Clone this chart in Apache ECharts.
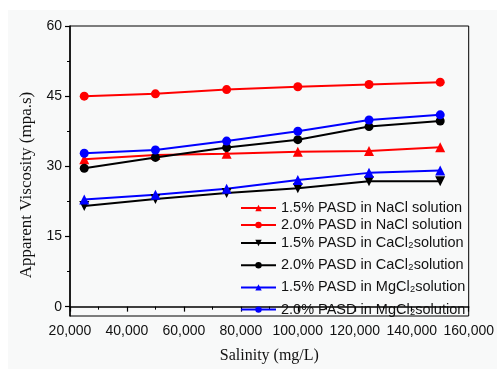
<!DOCTYPE html>
<html>
<head>
<meta charset="utf-8">
<script src="https://cdn.jsdelivr.net/npm/echarts@6/dist/echarts.min.js"></script>
<style>html,body{margin:0;padding:0;background:#fff;}#c{width:497px;height:369px;}</style>
</head>
<body>
<div id="c"></div>
<script>
const salinity = [25000, 50000, 75000, 100000, 125000, 150000];
const nacl15 = [31.5, 32.4, 32.7, 33.1, 33.3, 34.1];
const nacl20 = [45.0, 45.5, 46.4, 47.0, 47.5, 48.0];
const cacl15 = [21.5, 23.0, 24.3, 25.3, 26.8, 26.8];
const cacl20 = [29.6, 31.9, 34.0, 35.7, 38.5, 39.7];
const mgcl15 = [22.9, 23.9, 25.2, 27.1, 28.6, 29.1];
const mgcl20 = [32.8, 33.5, 35.4, 37.5, 39.9, 41.0];
const yMajorTicks = [0, 15, 30, 45, 60];
const yMinorTicks = [7.5, 22.5, 37.5, 52.5];
const seriesNames = [
  '1.5% PASD in NaCl solution',
  '2.0% PASD in NaCl solution',
  '1.5% PASD in CaCl\u2082solution',
  '2.0% PASD in CaCl\u2082solution',
  '1.5% PASD in MgCl\u2082solution',
  '2.0% PASD in MgCl\u2082solution'
];

const chart = echarts.init(document.getElementById('c'));
const pairs = arr => salinity.map((x, i) => [x, arr[i]]);
function mk(name, data, color, symbol, rotate, size) {
  return {
    name: name, type: 'line', data: pairs(data),
    symbol: symbol, symbolSize: size, symbolRotate: rotate,
    lineStyle: {color: color, width: 2},
    itemStyle: {color: color},
    emphasis: {disabled: true}
  };
}
const legendText = {fontFamily: 'Liberation Sans, Arial', fontSize: 14.5, color: '#111', lineHeight: 17};
const labelFont = {fontFamily: 'Liberation Sans, Arial', fontSize: 14, color: '#111'};
chart.setOption({
  animation: false,
  backgroundColor: '#ffffff',
  graphic: [
    {type: 'rect', z: -100, silent: true, shape: {x: 8, y: 10, width: 489, height: 359}, style: {fill: '#f8f9f9'}},
    {type: 'text', silent: true, x: 27, y: 185, rotation: Math.PI / 2,
      style: {text: 'Apparent Viscosity (mpa.s)', fontFamily: 'Liberation Serif, Times New Roman', fontSize: 17, fill: '#111', align: 'center', verticalAlign: 'middle'}}
  ],
  grid: {left: 70, top: 26, right: 25, bottom: 47, show: true, borderColor: '#000', borderWidth: 1, backgroundColor: 'transparent'},
  legend: [{
    data: seriesNames.slice(0, 2), left: 240, top: 199.5, orient: 'vertical', z: 50,
    itemWidth: 35, itemHeight: 8, itemGap: 0, padding: 0, selectedMode: false,
    textStyle: legendText
  }, {
    data: seriesNames.slice(2), left: 240, top: 234.5, orient: 'vertical', z: 50,
    itemWidth: 35, itemHeight: 8, itemGap: 5.2, padding: 0, selectedMode: false,
    textStyle: legendText
  }],
  xAxis: {
    type: 'value', min: 20000, max: 160000, interval: 20000,
    name: 'Salinity (mg/L)', nameLocation: 'middle', nameGap: 32,
    nameTextStyle: {fontFamily: 'Liberation Serif, Times New Roman', fontSize: 16, color: '#111'},
    axisLine: {lineStyle: {color: '#000', width: 1.5}},
    axisTick: {show: true, length: 5, lineStyle: {color: '#000', width: 1.2}},
    minorTick: {show: true, splitNumber: 2, length: 3, lineStyle: {color: '#000', width: 1}},
    axisLabel: Object.assign({margin: 8, formatter: v => v.toLocaleString('en-US')}, labelFont),
    splitLine: {show: false}
  },
  yAxis: [{
    type: 'value', min: -2, max: 60,
    axisLine: {show: true, lineStyle: {color: '#000', width: 1.5}},
    axisTick: {show: true, length: 5, customValues: yMajorTicks, lineStyle: {color: '#000', width: 1.2}},
    axisLabel: Object.assign({margin: 8, customValues: yMajorTicks}, labelFont),
    splitLine: {show: false}
  }, {
    type: 'value', min: -2, max: 60, position: 'left',
    axisLine: {show: false},
    axisTick: {show: true, length: 3, customValues: yMinorTicks, lineStyle: {color: '#000', width: 1}},
    axisLabel: {show: false},
    splitLine: {show: false}
  }],
  series: [
    mk(seriesNames[0], nacl15, '#ff0000', 'triangle', 0, 10),
    mk(seriesNames[1], nacl20, '#ff0000', 'circle', 0, 9),
    mk(seriesNames[2], cacl15, '#000000', 'triangle', 180, 10),
    mk(seriesNames[3], cacl20, '#000000', 'circle', 0, 9),
    mk(seriesNames[4], mgcl15, '#0000ff', 'triangle', 0, 10),
    mk(seriesNames[5], mgcl20, '#0000ff', 'circle', 0, 9)
  ]
});
</script>
</body>
</html>
